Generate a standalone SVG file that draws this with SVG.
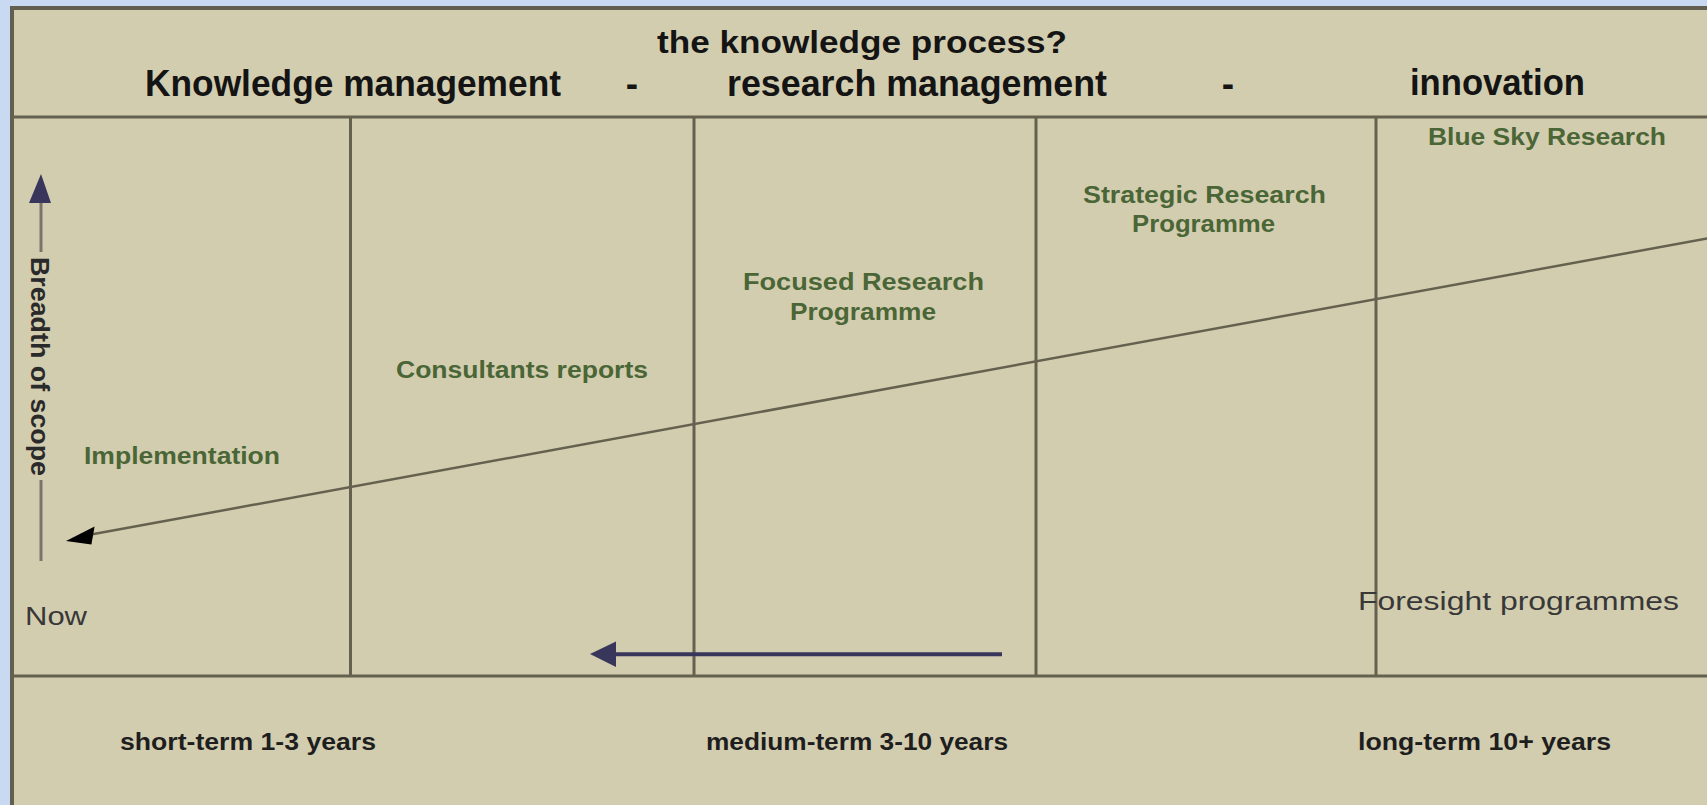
<svg xmlns="http://www.w3.org/2000/svg" width="1707" height="805" viewBox="0 0 1707 805">
<style>
.grid{stroke:#65614f;stroke-width:3;fill:none}
.hdr1{font-family:"Liberation Sans",Arial,sans-serif;font-weight:bold;font-size:32px;fill:#141414}
.hdr2{font-family:"Liberation Sans",Arial,sans-serif;font-weight:bold;font-size:37px;fill:#141414}
.grn{font-family:"Liberation Sans",Arial,sans-serif;font-weight:bold;font-size:23px;fill:#4a6636}
.dark{font-family:"Liberation Sans",Arial,sans-serif;font-size:26px;fill:#383838}
.term{font-family:"Liberation Sans",Arial,sans-serif;font-weight:bold;font-size:23px;fill:#1e1e1e}
.axis{font-family:"Liberation Sans",Arial,sans-serif;font-weight:bold;font-size:25px;fill:#2a2a2a}
.navy{fill:#38365a}
</style>
<rect x="0" y="0" width="1707" height="805" fill="#c8d9f1"/>
<rect x="12" y="8" width="1720" height="820" fill="#d3cdb0" stroke="#625f50" stroke-width="4"/>
<g id="grid">
<line class="grid" x1="12" y1="117" x2="1707" y2="117"/>
<line class="grid" x1="12" y1="676" x2="1707" y2="676"/>
<line class="grid" x1="350.5" y1="117" x2="350.5" y2="676"/>
<line class="grid" x1="694" y1="117" x2="694" y2="676"/>
<line class="grid" x1="1036" y1="117" x2="1036" y2="676"/>
<line class="grid" x1="1376" y1="117" x2="1376" y2="676"/>
</g>
<g id="header">
<text class="hdr1" x="657" y="53" textLength="410" lengthAdjust="spacingAndGlyphs">the knowledge process?</text>
<text class="hdr2" x="145" y="96" textLength="416" lengthAdjust="spacingAndGlyphs">Knowledge management</text>
<text class="hdr2" x="632" y="96" text-anchor="middle">-</text>
<text class="hdr2" x="727" y="96" textLength="380" lengthAdjust="spacingAndGlyphs">research management</text>
<text class="hdr2" x="1228" y="96" text-anchor="middle">-</text>
<text class="hdr2" x="1410" y="95" textLength="175" lengthAdjust="spacingAndGlyphs">innovation</text>
</g>
<g id="connectors">
<line x1="1720" y1="236.1" x2="80" y2="536.6" stroke="#65614f" stroke-width="2.5"/>
<polygon points="66,541 94.6,526.6 91.4,544.4" fill="#000"/>
<line x1="41" y1="198" x2="41" y2="252" stroke="#76746c" stroke-width="3"/>
<line x1="41" y1="480" x2="41" y2="561" stroke="#76746c" stroke-width="3"/>
<polygon class="navy" points="41,174 29,203 51,203"/>
<line x1="1002" y1="654.3" x2="612" y2="654.3" stroke="#38365a" stroke-width="4"/>
<polygon class="navy" points="590,654 616,641.5 616,667"/>
</g>
<g id="axis-label">
<text class="axis" transform="translate(31,257) rotate(90)" textLength="219" lengthAdjust="spacingAndGlyphs">Breadth of scope</text>
</g>
<g id="node-now"><text class="dark" x="25" y="625" textLength="62" lengthAdjust="spacingAndGlyphs">Now</text></g>
<g id="node-implementation"><text class="grn" x="84" y="464" textLength="196" lengthAdjust="spacingAndGlyphs">Implementation</text></g>
<g id="node-consultants"><text class="grn" x="396" y="378" textLength="252" lengthAdjust="spacingAndGlyphs">Consultants reports</text></g>
<g id="node-focused">
<text class="grn" x="743" y="290" textLength="241" lengthAdjust="spacingAndGlyphs">Focused Research</text>
<text class="grn" x="790" y="320" textLength="146" lengthAdjust="spacingAndGlyphs">Programme</text>
</g>
<g id="node-strategic">
<text class="grn" x="1083" y="203" textLength="243" lengthAdjust="spacingAndGlyphs">Strategic Research</text>
<text class="grn" x="1132" y="232" textLength="143" lengthAdjust="spacingAndGlyphs">Programme</text>
</g>
<g id="node-bluesky"><text class="grn" x="1428" y="145" textLength="238" lengthAdjust="spacingAndGlyphs">Blue Sky Research</text></g>
<g id="node-foresight"><text class="dark" x="1358" y="610" textLength="321" lengthAdjust="spacingAndGlyphs">Foresight programmes</text></g>
<g id="timescale">
<text class="term" x="120" y="750" textLength="256" lengthAdjust="spacingAndGlyphs">short-term 1-3 years</text>
<text class="term" x="706" y="750" textLength="302" lengthAdjust="spacingAndGlyphs">medium-term 3-10 years</text>
<text class="term" x="1358" y="750" textLength="253" lengthAdjust="spacingAndGlyphs">long-term 10+ years</text>
</g>
</svg>
